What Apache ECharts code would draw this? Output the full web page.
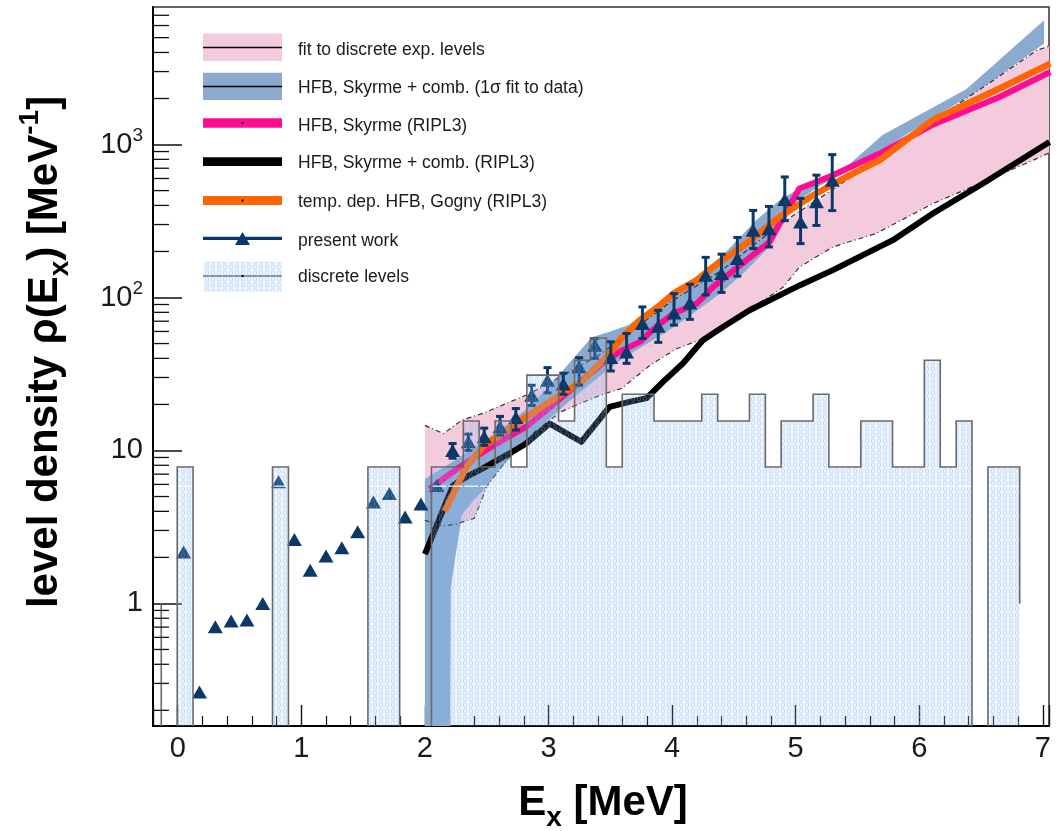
<!DOCTYPE html>
<html><head><meta charset="utf-8">
<script src="https://cdn.jsdelivr.net/npm/echarts@6/dist/echarts.min.js"></script>
<style>html,body{margin:0;padding:0;background:#fff}#c{width:1063px;height:831px}</style>
</head><body><div id="c"></div>
<script>
// ---------------- data ----------------
// present work
const workE = [0.048,0.176,0.304,0.432,0.56,0.688,0.816,0.944,1.072,1.2,1.328,1.456,1.584,1.712,1.84,1.968,2.096,
  2.224,2.352,2.48,2.608,2.736,2.864,2.992,3.12,3.248,3.376,3.504,3.632,3.76,3.888,4.016,4.144,4.272,4.4,4.528,4.656,4.784,4.912,5.04,5.168,5.296];
const workV = [2.17,0.264,0.703,0.769,0.778,1.0,6.24,2.62,1.65,2.04,2.31,2.94,4.61,5.24,3.68,4.46,5.9,
  10.0,11.4,12.3,14.3,16.4,23.0,28.8,27.2,35.2,48.7,40.5,44.1,67.6,64.9,79.3,92,140,143.5,180,275,282,437,312,422,585];
// error bars of present work
const errE  = [2.224,2.352,2.48,2.608,2.736,2.864,2.992,3.12,3.248,3.376,3.504,3.632,3.76,3.888,4.016,4.144,4.272,4.4,4.528,4.656,4.784,4.912,5.04,5.168,5.296];
const errLo = [8.9,10.0,10.8,12.6,13.6,19.7,23.8,23.3,26.7,40,33.1,37.1,53.9,50.9,66,72,104,108,138,209,214,318,225,296,370];
const errHi = [11.1,12.8,14.0,16.7,18.8,26.7,34.8,32.0,40.4,53.9,51.3,58.2,86.8,82.4,106,122,183,192,247,371,394,614,445,631,859];

// discrete levels histogram (bin edges and densities in MeV^-1)
const histEdges = [-0.133,-0.004,0.124,0.253,0.381,0.510,0.639,0.767,0.896,1.024,1.153,1.282,1.410,1.539,1.667,1.796,1.925,
  2.053,2.182,2.311,2.439,2.568,2.697,2.825,2.954,3.082,3.211,3.339,3.468,3.597,3.725,3.854,3.983,4.111,4.240,4.369,4.497,
  4.626,4.755,4.883,5.012,5.141,5.269,5.398,5.527,5.655,5.784,5.913,6.041,6.170,6.299,6.427,6.556,6.684,6.813];
const histVals = [0,7.8,0,0,0,0,0,7.8,0,0,0,0,0,7.8,7.8,0,0,
  7.8,7.8,15.6,7.8,15.6,7.8,31.1,31.1,15.6,38.9,54.4,7.8,23.3,23.3,15.6,15.6,15.6,23.3,15.6,15.6,
  23.3,7.8,15.6,15.6,23.3,7.8,7.8,15.6,15.6,7.8,7.8,38.9,7.8,15.6,0,7.8,7.8];
const histEndLevel = 1;
const hatchSeamLevel = 5.84;   // white seam visible in the hatch fill

// fit to discrete exp. levels (band)
const fitUpE = [2.0,2.15,2.3,2.47,2.66,2.82,3.0,3.22,3.41,3.6,3.8,4.0,4.4,4.87,5.2,5.52,6.14,6.6,6.95,7.05];
const fitUpV = [14.6,12.9,15.8,17.5,20.3,23.0,27.4,34.4,42,55,72,95,150,300,450,670,1480,2630,4130,4400];
const fitLoE = [2.0,2.15,2.25,2.4,2.5,2.7,2.9,3.1,3.3,3.45,3.59,3.82,4.03,4.28,4.52,4.68,4.9,5.03,5.3,5.65,6.11,6.52,6.92,7.05];
const fitLoV = [3.5,3.2,3.3,3.6,5.8,9.5,13.5,17.9,21,23.5,25.4,36,46,55,73,89,117,158,214,262,411,570,789,880];

// HFB, Skyrme + comb. (1 sigma fit to data) band
const hfbUpE = [2.0,2.2,2.4,2.6,2.8,3.0,3.2,3.35,3.5,3.65,3.8,4.0,4.2,4.45,4.68,4.87,5.14,5.41,5.7,6.11,6.38,6.6,7.01];
const hfbUpV = [6.5,8.2,10.5,13.5,18,26,40,55,60,66,82,108,135,204,320,433,585,714,1150,1750,2300,3300,6490];
const hfbLoE = [2.0,2.2,2.21,2.25,2.3,2.4,2.5,2.6,2.8,3.0,3.2,3.4,3.6,3.8,4.0,4.2,4.4,4.6,4.8,5.0,5.2,5.4,5.7,6.1,6.4,6.6,7.01];
const hfbLoV = [0.01,0.01,1.28,2.1,3.8,4.8,5.8,7.5,11,16,22,30,40,50,63,82,108,150,220,420,540,660,920,1480,2050,2630,4570];

// HFB, Skyrme (RIPL3)
const skyE = [2.04,2.28,2.58,2.82,3.0,3.2,3.47,3.6,3.74,3.87,4.01,4.2,4.33,4.6,4.79,4.87,5.03,5.27,5.68,6.11,6.65,7.06];
const skyV = [5.6,7.8,11.1,14.3,18.8,25.7,38.9,45.3,51.3,64.3,78.6,91.4,117,175,231,305,516,614,873,1350,2046,2980];
// HFB, Skyrme + comb. (RIPL3)
const combE = [2.0,2.146,2.227,2.335,2.469,2.685,2.82,3.01,3.265,3.494,3.656,3.794,3.926,4.087,4.249,4.411,4.627,4.897,5.031,5.301,5.786,6.11,6.515,7.054];
const combV = [2.1,4.07,5.9,6.72,7.63,9.56,11.1,15.0,11.4,19.3,20.8,22.0,28.1,37,52.6,64.2,82.6,106,120,151,237,354,556,1040];
// temp. dep. HFB, Gogny (RIPL3)
const gogE = [2.16,2.335,2.47,2.74,3.01,3.28,3.47,3.6,3.74,3.87,4.01,4.2,4.33,4.6,4.87,5.14,5.41,5.68,6.11,6.65,7.06];
const gogV = [4.0,7.8,10.6,15.0,20.8,28.8,40.9,55.3,71.1,84.8,106,130,158,225,336,466,614,792,1450,2323,3382];

// axes
const xMin = -0.2, xMax = 7.05;
const yMin = 0.158, yMax = 7930;
const yMinorTicks = [0.2,0.3,0.4,0.5,0.6,0.7,0.8,0.9,2,3,4,5,6,7,8,9,20,30,40,50,60,70,80,90,200,300,400,500,600,700,800,900,2000,3000,4000,5000,6000,7000];
const FLOOR = 0.01;

// ---------------- styles ----------------
const FONT = '"Liberation Sans", Arial, Helvetica, sans-serif';
const PINK = '#f4cadd', BLUE = '#8aaad0', MAG = '#ff0c93', ORANGE = '#ff6600', NAVY = '#0b3868';

function makeHatch(){
  const c = document.createElement('canvas'); c.width = 6; c.height = 6;
  const g = c.getContext('2d');
  g.fillStyle = 'rgba(150,195,245,0.18)'; g.fillRect(0,0,6,6);
  g.strokeStyle = 'rgba(120,175,240,0.32)'; g.lineWidth = 1;
  g.beginPath(); g.ellipse(3,3,1.6,2.3,0,0,2*Math.PI); g.stroke();
  return c;
}
const HATCH = {image: makeHatch(), repeat: 'repeat'};

const zip = (a,b) => a.map((v,i)=>[v,b[i]]);

function bandSeries(name, upE, upV, loE, loV, color, z){
  return {
    type:'custom', name, z, clip:true, silent:true, animation:false,
    data:[[upE[0], upV[0]]],
    renderItem(params, api){
      const pts = [];
      for (let i=0;i<upE.length;i++) pts.push(api.coord([upE[i], upV[i]]));
      for (let i=loE.length-1;i>=0;i--) pts.push(api.coord([loE[i], loV[i]]));
      return {type:'polygon', shape:{points:pts}, style:{fill:color}};
    }
  };
}
function lineSeries(name, xs, ys, color, width, z, dash){
  return {
    type:'line', name, z, data: zip(xs,ys), showSymbol:false, symbol:'none', clip:true, silent:true, animation:false,
    lineStyle:{color, width, type: dash || 'solid', cap:'butt', join:'round'}
  };
}

const series = [
  bandSeries('fit to discrete exp. levels', fitUpE, fitUpV, fitLoE, fitLoV, PINK, 1),
  bandSeries('HFB, Skyrme + comb. (1σ fit to data)', hfbUpE, hfbUpV, hfbLoE, hfbLoV, BLUE, 2),
  lineSeries('fit upper', fitUpE, fitUpV, '#333', 1.2, 3, [5,3,1,3]),
  lineSeries('fit lower', fitLoE, fitLoV, '#333', 1.2, 3, [5,3,1,3]),
  lineSeries('HFB, Skyrme + comb. (RIPL3)', combE, combV, '#000', 6, 4),
  lineSeries('HFB, Skyrme (RIPL3)', skyE, skyV, MAG, 6, 5),
  lineSeries('temp. dep. HFB, Gogny (RIPL3)', gogE, gogV, ORANGE, 6.5, 6),
  {
    type:'custom', name:'errors', z:7, clip:true, silent:true, animation:false,
    data: errE.map((e,i)=>[e, errLo[i], errHi[i]]),
    encode:{x:0, y:[1,2]},
    renderItem(params, api){
      const lo = api.coord([api.value(0), api.value(1)]);
      const hi = api.coord([api.value(0), api.value(2)]);
      const st = {stroke:NAVY, lineWidth:3};
      return {type:'group', children:[
        {type:'line', shape:{x1:lo[0],y1:lo[1],x2:hi[0],y2:hi[1]}, style:st},
        {type:'line', shape:{x1:lo[0]-4,y1:lo[1],x2:lo[0]+4,y2:lo[1]}, style:st},
        {type:'line', shape:{x1:hi[0]-4,y1:hi[1],x2:hi[0]+4,y2:hi[1]}, style:st}
      ]};
    }
  },
  {
    type:'scatter', name:'present work', z:8, data: zip(workE, workV), symbol:'triangle', symbolSize:[15,13],
    itemStyle:{color:NAVY, opacity:1}, silent:true, animation:false, clip:true
  },
  {
    type:'custom', name:'discrete levels', z:9, clip:true, silent:true, animation:false,
    data:[[histEdges[0], histEndLevel]],
    renderItem(params, api){
      const n = histVals.length;
      const fillPts = [api.coord([histEdges[0], FLOOR])];
      const linePts = [api.coord([histEdges[0], histEndLevel])];
      const seams = [];
      for (let k=0;k<n;k++){
        const v = histVals[k] > 0 ? histVals[k] : FLOOR;
        const a = api.coord([histEdges[k], v]), b = api.coord([histEdges[k+1], v]);
        fillPts.push(a, b); linePts.push(a, b);
        if (histVals[k] > hatchSeamLevel) {
          const s1 = api.coord([histEdges[k], hatchSeamLevel]), s2 = api.coord([histEdges[k+1], hatchSeamLevel]);
          seams.push({type:'line', shape:{x1:s1[0]+1, y1:s1[1], x2:s2[0]-1, y2:s2[1]}, style:{stroke:'rgba(255,255,255,0.85)', lineWidth:1.4}});
        }
      }
      fillPts.push(api.coord([histEdges[n], FLOOR]));
      linePts.push(api.coord([histEdges[n], histEndLevel]));
      return {type:'group', children:[
        {type:'polygon', shape:{points:fillPts}, style:{fill:HATCH}},
        ...seams,
        {type:'polyline', shape:{points:linePts}, style:{stroke:'#6a6a6a', lineWidth:1.6, fill:null}}
      ]};
    }
  },
  {
    type:'custom', name:'yminor', z:11, clip:false, silent:true, animation:false,
    data: yMinorTicks.map(v=>[xMin, v]),
    renderItem(params, api){
      const p = api.coord([api.value(0), api.value(1)]);
      return {type:'line', shape:{x1:p[0], y1:p[1], x2:p[0]+16, y2:p[1]}, style:{stroke:'#111', lineWidth:1.3}};
    }
  }
];

// ---------------- legend (graphic) ----------------
const LX = 203, LW = 79, TX = 298, FS = 17.5;
const legText = (y, t) => ({type:'text', z:100, style:{x:TX, y, text:t, fontSize:FS, fontFamily:FONT, fill:'#1a1a1a', align:'left', verticalAlign:'middle'}});
const graphic = [
  {type:'rect', z:100, shape:{x:LX,y:33.5,width:LW,height:27.5}, style:{fill:PINK}},
  {type:'line', z:101, shape:{x1:LX,y1:47.5,x2:LX+LW,y2:47.5}, style:{stroke:'#000',lineWidth:1.4}},
  legText(50, 'fit to discrete exp. levels'),
  {type:'rect', z:100, shape:{x:LX,y:72.7,width:LW,height:27.3}, style:{fill:BLUE}},
  {type:'line', z:101, shape:{x1:LX,y1:86.5,x2:LX+LW,y2:86.5}, style:{stroke:'#000',lineWidth:1.4}},
  legText(88.5, 'HFB, Skyrme + comb. (1σ fit to data)'),
  {type:'rect', z:100, shape:{x:LX,y:118.3,width:LW,height:9.4}, style:{fill:MAG}},
  {type:'rect', z:101, shape:{x:LX+LW/2-1,y:122,width:2,height:2}, style:{fill:'#000'}},
  legText(126.5, 'HFB, Skyrme (RIPL3)'),
  {type:'rect', z:100, shape:{x:LX,y:157.3,width:LW,height:8.7}, style:{fill:'#000'}},
  legText(163.5, 'HFB, Skyrme + comb. (RIPL3)'),
  {type:'rect', z:100, shape:{x:LX,y:196,width:LW,height:9}, style:{fill:ORANGE}},
  {type:'rect', z:101, shape:{x:LX+LW/2-1,y:199.5,width:2,height:2}, style:{fill:'#000'}},
  legText(202, 'temp. dep. HFB, Gogny (RIPL3)'),
  {type:'line', z:100, shape:{x1:LX,y1:238.3,x2:LX+LW,y2:238.3}, style:{stroke:NAVY,lineWidth:3.3}},
  {type:'polygon', z:101, shape:{points:[[LX+LW/2-7.5,245],[LX+LW/2+7.5,245],[LX+LW/2,232]]}, style:{fill:NAVY}},
  legText(241, 'present work'),
  {type:'rect', z:100, shape:{x:LX,y:261.7,width:LW,height:30}, style:{fill:HATCH}},
  {type:'line', z:101, shape:{x1:LX,y1:276,x2:LX+LW,y2:276}, style:{stroke:'#777',lineWidth:1.3}},
  {type:'rect', z:102, shape:{x:LX+LW/2-1,y:275,width:2,height:2}, style:{fill:'#000'}},
  legText(277, 'discrete levels'),
  // axis titles
  {type:'text', z:100, x:45, y:352, rotation:Math.PI/2, style:{
    text:'{b|level density ρ(E}{s|x}{b|) [MeV}{p|-1}{b|]}', align:'center', verticalAlign:'middle',
    rich:{
      b:{fontSize:42, fontWeight:'bold', fontFamily:FONT, fill:'#000', lineHeight:58},
      s:{fontSize:28, fontWeight:'bold', fontFamily:FONT, fill:'#000', verticalAlign:'bottom', lineHeight:31},
      p:{fontSize:28, fontWeight:'bold', fontFamily:FONT, fill:'#000', verticalAlign:'top', lineHeight:31}
    }}},
  {type:'text', z:100, x:603, y:803, style:{
    text:'{b|E}{s|x}{b| [MeV]}', align:'center', verticalAlign:'middle',
    rich:{
      b:{fontSize:42, fontWeight:'bold', fontFamily:FONT, fill:'#000', lineHeight:58},
      s:{fontSize:28, fontWeight:'bold', fontFamily:FONT, fill:'#000', verticalAlign:'bottom', lineHeight:31}
    }}}
];

const option = {
  animation:false,
  backgroundColor:'#fff',
  grid:{left:153, top:7, right:14, bottom:105, show:true, borderColor:'#333', borderWidth:1.5, backgroundColor:'transparent'},
  xAxis:{
    type:'value', min:xMin, max:xMax, minInterval:1, maxInterval:1,
    axisLine:{show:true, onZero:false, lineStyle:{color:'#000', width:2}},
    axisTick:{show:true, inside:true, length:21, lineStyle:{color:'#111', width:1.4}},
    minorTick:{show:true, splitNumber:5, length:10, lineStyle:{color:'#111', width:1.2}},
    splitLine:{show:false},
    axisLabel:{show:true, showMinLabel:false, showMaxLabel:false, fontSize:29, fontFamily:FONT, color:'#1a1a1a', margin:8}
  },
  yAxis:{
    type:'log', logBase:10, min:yMin, max:yMax,
    axisLine:{show:true, onZero:false, lineStyle:{color:'#000', width:2}},
    axisTick:{show:true, inside:true, length:29, lineStyle:{color:'#111', width:1.5}},
    splitLine:{show:false},
    axisLabel:{show:true, showMinLabel:false, showMaxLabel:false, margin:10,
      formatter:function(v){
        const e = Math.round(Math.log10(v));
        if (e === 0) return '{b|1}';
        if (e === 1) return '{b|10}';
        return '{b|10}{s|' + e + '}';
      },
      rich:{
        b:{fontSize:29, fontFamily:FONT, color:'#1a1a1a', lineHeight:36},
        s:{fontSize:19, fontFamily:FONT, color:'#1a1a1a', verticalAlign:'top', lineHeight:20}
      }
    }
  },
  series,
  graphic
};

const chart = echarts.init(document.getElementById('c'), null, {renderer:'canvas', width:1063, height:831});
chart.setOption(option);
</script>
</body></html>
